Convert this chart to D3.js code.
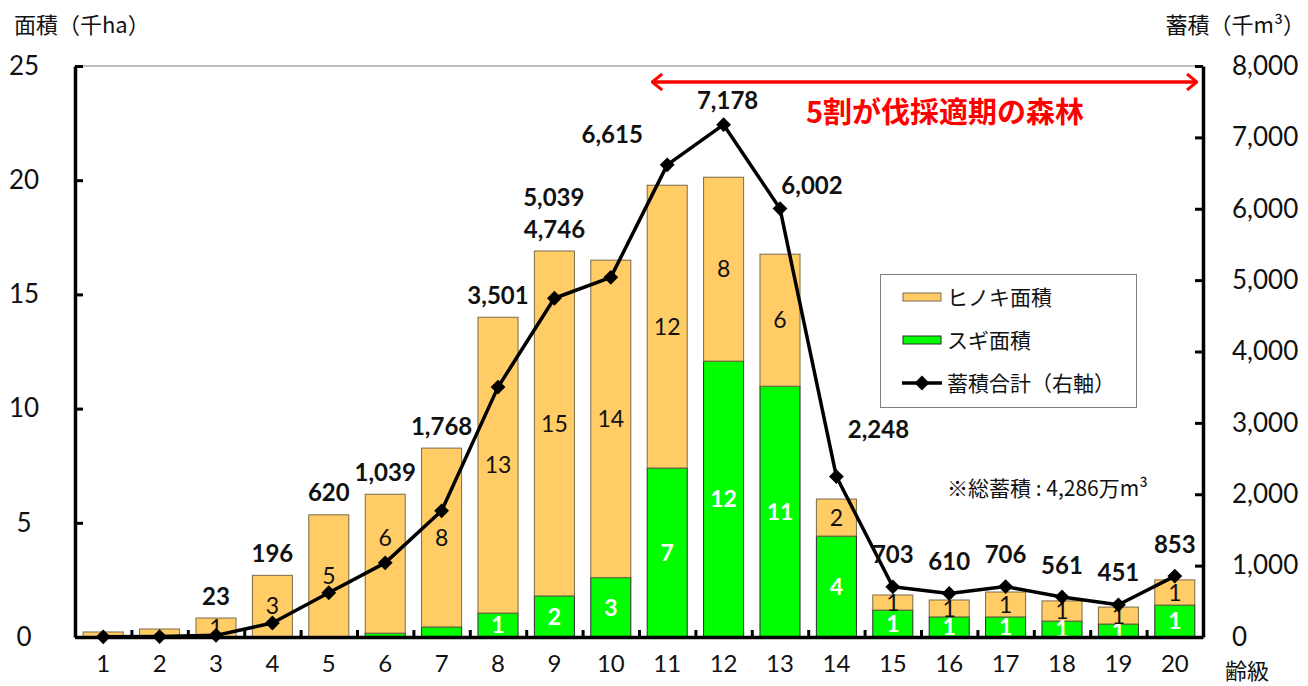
<!DOCTYPE html>
<html>
<head>
<meta charset="utf-8">
<script src="https://cdn.jsdelivr.net/npm/d3@7"></script>
<style>
    body { margin: 0; background: #fff; }
    svg { display: block; font-family: Lato, 'Noto Sans CJK JP', sans-serif; }
    .jp { font-family: 'Noto Sans CJK JP', sans-serif; }
</style>
</head>
<body>
<div id="chart"></div>
<script>
const AGE_CLASSES = ['1', '2', '3', '4', '5', '6', '7', '8', '9', '10',
    '11', '12', '13', '14', '15', '16', '17', '18', '19', '20'];

// 千ha
const SUGI_AREA = [0, 0, 0, 0, 0, 0.17, 0.44, 1.05, 1.8, 2.6,
    7.4, 12.08, 10.98, 4.42, 1.18, 0.88, 0.88, 0.7, 0.57, 1.4];
const HINOKI_AREA = [0.22, 0.35, 0.83, 2.7, 5.35, 6.08, 7.83, 12.95, 15.1, 13.9,
    12.38, 8.05, 5.78, 1.62, 0.66, 0.74, 1.09, 0.88, 0.74, 1.1];

// 千m3
const STOCK_TOTAL = [2, 6, 23, 196, 620, 1039, 1768, 3501, 4746, 5039,
    6615, 7178, 6002, 2248, 703, 610, 706, 561, 451, 853];

const LEFT_TICKS = [0, 5, 10, 15, 20, 25];
const RIGHT_TICKS = [0, 1000, 2000, 3000, 4000, 5000, 6000, 7000, 8000];

const WIDTH = 1308;
const HEIGHT = 686;
const margin = { top: 66, bottom: 49, left: 75, right: 105 };

// labels around the peak were moved by hand in the original
const LABEL_NUDGE = {
    '10': [-57, -80],
    '11': [-55, -30],
    '12': [4, -24],
    '13': [32, -23],
    '14': [42, -47]
};
const HINOKI_LABEL_NUDGE = { '6': -26 };

const svg = d3.select('#chart').append('svg').attr('width', WIDTH).attr('height', HEIGHT);

const x0 = margin.left;
const x1 = WIDTH - margin.right;
const y0 = HEIGHT - margin.bottom;
const y1 = margin.top;

const x = d3.scaleBand().domain(AGE_CLASSES).range([x0, x1]).paddingInner(0.29).paddingOuter(0.145);
const yLeft = d3.scaleLinear().domain([0, 25]).range([y0, y1]);
const yRight = d3.scaleLinear().domain([0, 8000]).range([y0, y1]);
const bw = x.bandwidth();
const cx = (k) => x(k) + bw / 2;

let data = AGE_CLASSES.map((k, i) => ({
    key: k,
    sugi: SUGI_AREA[i],
    hinoki: HINOKI_AREA[i],
    stock: STOCK_TOTAL[i]
}));

// top border of plot area
svg.append('line')
    .attr('x1', x0).attr('x2', x1).attr('y1', y1).attr('y2', y1)
    .attr('stroke', '#808080').attr('stroke-width', 1);

// Bars: sugi at the bottom, hinoki stacked on top
const bars = svg.append('g');
bars.selectAll('rect.sugi')
    .data(data.filter((d) => d.sugi > 0))
    .enter()
    .append('rect')
    .attr('x', (d) => x(d.key))
    .attr('width', bw)
    .attr('y', (d) => yLeft(d.sugi))
    .attr('height', (d) => yLeft(0) - yLeft(d.sugi))
    .attr('fill', '#00ff00')
    .attr('stroke', '#2b2b2b')
    .attr('stroke-width', 1);

bars.selectAll('rect.hinoki')
    .data(data)
    .enter()
    .append('rect')
    .attr('x', (d) => x(d.key))
    .attr('width', bw)
    .attr('y', (d) => yLeft(d.sugi + d.hinoki))
    .attr('height', (d) => yLeft(d.sugi) - yLeft(d.sugi + d.hinoki))
    .attr('fill', '#ffcc66')
    .attr('stroke', '#7a6a4a')
    .attr('stroke-width', 1);

// Bar value labels
bars.selectAll('text.sugi')
    .data(data.filter((d) => Math.round(d.sugi) >= 1))
    .enter()
    .append('text')
    .attr('x', (d) => cx(d.key))
    .attr('y', (d) => (yLeft(0) + yLeft(d.sugi)) / 2)
    .attr('dy', '0.36em')
    .attr('text-anchor', 'middle')
    .attr('font-size', 23)
    .attr('font-weight', 'bold')
    .attr('fill', '#fff')
    .text((d) => Math.round(d.sugi));

bars.selectAll('text.hinoki')
    .data(data.filter((d) => Math.round(d.hinoki) >= 1))
    .enter()
    .append('text')
    .attr('x', (d) => cx(d.key))
    .attr('y', (d) => (yLeft(d.sugi) + yLeft(d.sugi + d.hinoki)) / 2 + (HINOKI_LABEL_NUDGE[d.key] || 0))
    .attr('dy', '0.36em')
    .attr('text-anchor', 'middle')
    .attr('font-size', 23)
    .attr('fill', '#111')
    .text((d) => Math.round(d.hinoki));

// Axes
const tickScale = d3.scaleLinear().domain([0, AGE_CLASSES.length]).range([x0, x1]);
svg.append('g')
    .attr('transform', `translate(0, ${y0})`)
    .call(d3.axisTop(tickScale).tickValues(d3.range(1, AGE_CLASSES.length)).tickSize(7).tickSizeOuter(0).tickFormat(''))
    .call((g) => g.selectAll('line').attr('stroke', '#000').attr('stroke-width', 3))
    .call((g) => g.select('.domain').attr('stroke', '#000').attr('stroke-width', 3.5));

svg.append('g')
    .attr('transform', `translate(0, ${y0})`)
    .call(d3.axisBottom(x).tickSize(0).tickPadding(18))
    .call((g) => g.select('.domain').remove())
    .call((g) => g.selectAll('text').attr('font-size', 24).attr('fill', '#111').attr('font-family', 'Lato'));

svg.append('g')
    .attr('transform', `translate(${x0}, 0)`)
    .call(d3.axisLeft(yLeft).tickValues(LEFT_TICKS).tickSize(-8).tickSizeOuter(0).tickPadding(51))
    .call((g) => g.selectAll('line').attr('stroke', '#000').attr('stroke-width', 3))
    .call((g) => g.select('.domain').attr('stroke', '#000').attr('stroke-width', 3.5))
    .call((g) => g.selectAll('text').attr('text-anchor', 'middle').attr('font-size', 26)
        .attr('fill', '#111').attr('font-family', 'Lato'));

svg.append('g')
    .attr('transform', `translate(${x1}, 0)`)
    .call(d3.axisRight(yRight).tickValues(RIGHT_TICKS).tickSize(-8).tickSizeOuter(0).tickPadding(29)
        .tickFormat(d3.format(',')))
    .call((g) => g.selectAll('line').attr('stroke', '#000').attr('stroke-width', 3))
    .call((g) => g.select('.domain').attr('stroke', '#000').attr('stroke-width', 3.5))
    .call((g) => g.selectAll('text').attr('font-size', 26).attr('fill', '#111').attr('font-family', 'Lato'));

// Stock line (right axis)
const line = d3.line().x((d) => cx(d.key)).y((d) => yRight(d.stock));
svg.append('path')
    .datum(data)
    .attr('d', line)
    .attr('fill', 'none')
    .attr('stroke', '#000')
    .attr('stroke-width', 3.5)
    .attr('stroke-linejoin', 'round');

const diamond = d3.symbol(d3.symbolSquare, 110);
svg.append('g')
    .selectAll('path')
    .data(data)
    .enter()
    .append('path')
    .attr('d', diamond)
    .attr('transform', (d) => `translate(${cx(d.key)}, ${yRight(d.stock)}) rotate(45)`)
    .attr('fill', '#000');

// Stock value labels
svg.append('g')
    .selectAll('text')
    .data(data.filter((d) => d.stock >= 10))
    .enter()
    .append('text')
    .attr('text-anchor', 'middle')
    .attr('dy', '0.36em')
    .attr('font-size', 24)
    .attr('font-weight', 'bold')
    .attr('fill', '#111')
    .attr('x', (d) => cx(d.key) + (LABEL_NUDGE[d.key] ? LABEL_NUDGE[d.key][0] : 0))
    .attr('y', (d) => {
        let py = yRight(d.stock);
        if (LABEL_NUDGE[d.key]) {
            return py + LABEL_NUDGE[d.key][1];
        }
        let top = yLeft(d.sugi + d.hinoki);
        return Math.min(top - 22, py - 32);
    })
    .text((d) => d3.format(',')(d.stock));

// Axis titles
svg.append('text').attr('class', 'jp')
    .attr('x', 14).attr('y', 25).attr('dy', '0.36em')
    .attr('font-size', 22).attr('fill', '#111')
    .text('面積（千ha）');

svg.append('text').attr('class', 'jp')
    .attr('x', 1305).attr('y', 25).attr('dy', '0.36em')
    .attr('text-anchor', 'end')
    .attr('font-size', 22).attr('fill', '#111')
    .text('蓄積（千m³）');

svg.append('text').attr('class', 'jp')
    .attr('x', 1247).attr('y', 671).attr('dy', '0.36em')
    .attr('text-anchor', 'middle')
    .attr('font-size', 22).attr('fill', '#111')
    .text('齢級');

// Red range arrow
const defs = svg.append('defs');
defs.append('marker')
    .attr('id', 'chev')
    .attr('viewBox', '0 0 12 18')
    .attr('refX', 11).attr('refY', 9)
    .attr('markerWidth', 12).attr('markerHeight', 18)
    .attr('markerUnits', 'userSpaceOnUse')
    .attr('orient', 'auto-start-reverse')
    .append('path')
    .attr('d', 'M1,1 L11,9 L1,17')
    .attr('fill', 'none')
    .attr('stroke', '#ff0000')
    .attr('stroke-width', 3);

svg.append('line')
    .attr('x1', x('11') + 5).attr('x2', x1 - 6)
    .attr('y1', 82).attr('y2', 82)
    .attr('stroke', '#ff0000')
    .attr('stroke-width', 3.5)
    .attr('marker-start', 'url(#chev)')
    .attr('marker-end', 'url(#chev)');

svg.append('text').attr('class', 'jp')
    .attr('x', 945).attr('y', 113).attr('dy', '0.36em')
    .attr('text-anchor', 'middle')
    .attr('font-size', 29).attr('font-weight', 'bold')
    .attr('fill', '#ff0000')
    .text('5割が伐採適期の森林');

// Legend
const legend = svg.append('g');
legend.append('rect')
    .attr('x', 880.5).attr('y', 274.5).attr('width', 256).attr('height', 133)
    .attr('fill', '#fff').attr('stroke', '#808080').attr('stroke-width', 1);

const legendRows = [
    { label: 'ヒノキ面積', type: 'rect', fill: '#ffcc66', stroke: '#7a6a4a' },
    { label: 'スギ面積', type: 'rect', fill: '#00ff00', stroke: '#2b2b2b' },
    { label: '蓄積合計（右軸）', type: 'line' }
];
legendRows.forEach((r, i) => {
    let ry = 297 + i * 43;
    if (r.type === 'rect') {
        legend.append('rect')
            .attr('x', 903).attr('y', ry - 4).attr('width', 38).attr('height', 8)
            .attr('fill', r.fill).attr('stroke', r.stroke).attr('stroke-width', 1);
    } else {
        legend.append('line')
            .attr('x1', 902).attr('x2', 942).attr('y1', ry).attr('y2', ry)
            .attr('stroke', '#000').attr('stroke-width', 3.5);
        legend.append('path')
            .attr('d', diamond)
            .attr('transform', `translate(922, ${ry}) rotate(45)`)
            .attr('fill', '#000');
    }
    legend.append('text').attr('class', 'jp')
        .attr('x', 947).attr('y', ry).attr('dy', '0.36em')
        .attr('font-size', 21).attr('fill', '#111')
        .text(r.label);
});

svg.append('text').attr('class', 'jp')
    .attr('x', 947).attr('y', 488).attr('dy', '0.36em')
    .attr('font-size', 21).attr('fill', '#111')
    .text('※総蓄積 : 4,286万m³');
</script>
</body>
</html>
